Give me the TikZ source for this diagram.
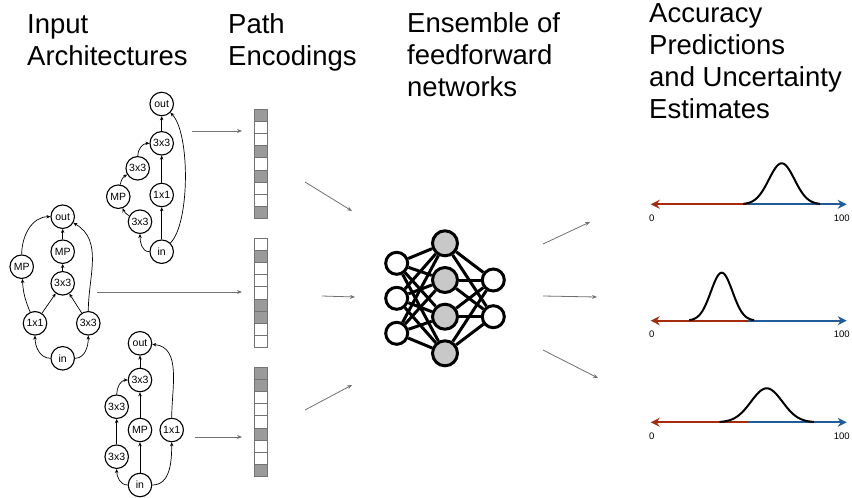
\documentclass[tikz,border=0pt]{standalone}
\usepackage{fontspec}
\setmainfont{Liberation Sans}
\usetikzlibrary{arrows.meta}
\definecolor{axred}{HTML}{A62B0C}
\definecolor{axblue}{HTML}{1F5C99}
\definecolor{cellgray}{HTML}{9A9A9A}
\definecolor{hidgray}{HTML}{C8C8C8}
\definecolor{arrgray}{HTML}{707070}
\begin{document}
\begin{tikzpicture}[x=1pt,y=1pt,
  head/.style={anchor=base west, align=left, inner sep=0pt, font=\fontsize{27.5}{32}\selectfont},
  op/.style={circle, draw=black, line width=1.1pt, minimum size=23.5pt, inner sep=0pt, font=\fontsize{10.5}{12}\selectfont, fill=white},
  edge/.style={-{Stealth[length=4pt,width=3.5pt]}, line width=0.7pt},
  flow/.style={draw=arrgray, line width=0.8pt, -{Stealth[length=5pt,width=4pt]}},
  cellbox/.style={draw=black!55, line width=1pt, minimum width=13pt, minimum height=12.22pt, inner sep=0pt},
  inn/.style={circle, draw=black, line width=3pt, fill=white, minimum size=22pt, inner sep=0pt},
  hid/.style={inn, fill=hidgray, minimum size=25pt},
  wire/.style={line width=3pt},
  axisr/.style={draw=axred, line width=2pt, -{Stealth[length=9pt,width=9pt]}},
  axisb/.style={draw=axblue, line width=2pt, -{Stealth[length=9pt,width=9pt]}},
  bell/.style={line width=2pt},
  tick/.style={font=\fontsize{9.5}{11}\selectfont, inner sep=0pt},
  ]
\useasboundingbox (0,0) rectangle (852,-498);

% headings (anchor = baseline of the last line)
\node[head] (h1) at (27,-65) {Input\\Architectures};
\node[head] (h2) at (228,-65) {Path\\Encodings};
\node[head] (h3) at (407,-96) {Ensemble of\\feedforward\\networks};
\node[head] (h4) at (649,-118) {Accuracy\\Predictions\\and Uncertainty\\Estimates};

% top architecture
\node[op] (Aout) at (161.7,-104) {out};
\node[op] (A33t) at (161.7,-143.3) {3x3};
\node[op] (A33l) at (137.7,-168.3) {3x3};
\node[op] (AMP) at (118.3,-196.7) {MP};
\node[op] (A11) at (161.7,-195) {1x1};
\node[op] (A33b) at (140,-221.7) {3x3};
\node[op] (Ain) at (161.7,-251.7) {in};
\draw[edge] (Ain) to[out=180,in=-90] (A33b);
\draw[edge] (A33b) to[bend left=20] (AMP);
\draw[edge] (AMP) to[bend left=25] (A33l);
\draw[edge] (A33l) to[out=90,in=180] (A33t);
\draw[edge] (Ain) -- (A11);
\draw[edge] (A11) -- (A33t);
\draw[edge] (A33t) -- (Aout);
\draw[edge] (Ain) to[out=45,in=-45,looseness=0.55] (Aout);

% middle architecture
\node[op] (Bout) at (62.7,-216.7) {out};
\node[op] (BMPc) at (62.7,-251.7) {MP};
\node[op] (BMPl) at (21.7,-266.7) {MP};
\node[op] (B33) at (62.7,-283.3) {3x3};
\node[op] (B11) at (35,-323.3) {1x1};
\node[op] (B33r) at (88.3,-323.3) {3x3};
\node[op] (Bin) at (62.7,-358.3) {in};
\draw[edge] (Bin) to[out=180,in=-90] (B11);
\draw[edge] (Bin) to[out=0,in=-90] (B33r);
\draw[edge] (B11) to[bend left=10] (BMPl);
\draw[edge] (BMPl) to[out=90,in=180] (Bout);
\draw[edge] (B11) -- (B33);
\draw[edge] (B33r) -- (B33);
\draw[edge] (B33) -- (BMPc);
\draw[edge] (BMPc) -- (Bout);
\draw[edge] (B33r) to[out=90,in=-30] (Bout);

% bottom architecture
\node[op] (Cout) at (140,-343.3) {out};
\node[op] (C33t) at (140,-380) {3x3};
\node[op] (C33l) at (116.7,-406.7) {3x3};
\node[op] (CMP) at (140,-430) {MP};
\node[op] (C11) at (171.7,-430) {1x1};
\node[op] (C33b) at (116.7,-456.7) {3x3};
\node[op] (Cin) at (140,-485) {in};
\draw[edge] (Cin) to[out=180,in=-90] (C33b);
\draw[edge] (C33b) -- (C33l);
\draw[edge] (C33l) to[out=90,in=180] (C33t);
\draw[edge] (Cin) -- (CMP);
\draw[edge] (CMP) -- (C33t);
\draw[edge] (C33t) -- (Cout);
\draw[edge] (Cin) to[out=0,in=-90] (C11);
\draw[edge] (C11) to[out=90,in=-5] (Cout);

% path encodings
\foreach \f [count=\i] in {cellgray,white,white,cellgray,white,cellgray,white,white,cellgray}
  \node[cellbox, fill=\f] (P1c\i) at (260.5,{-109-(\i-0.5)*12.22}) {};
\foreach \f [count=\i] in {white,cellgray,white,white,white,cellgray,cellgray,white,white}
  \node[cellbox, fill=\f] (P2c\i) at (260.5,{-238-(\i-0.5)*12.22}) {};
\foreach \f [count=\i] in {cellgray,cellgray,white,white,white,cellgray,white,white,cellgray}
  \node[cellbox, fill=\f] (P3c\i) at (260.5,{-367-(\i-0.5)*12.22}) {};

% arrows architecture -> encoding
\coordinate (fa1) at (192,-131); \coordinate (fa2) at (242,-131);
\coordinate (fb1) at (97,-292); \coordinate (fb2) at (242,-292);
\coordinate (fc1) at (195,-437); \coordinate (fc2) at (242,-437);
\draw[flow] (fa1) -- (fa2);
\draw[flow] (fb1) -- (fb2);
\draw[flow] (fc1) -- (fc2);

% network
\foreach \y [count=\i] in {263.3,298.3,333.3} \node[inn] (I\i) at (396.7,-\y) {};
\foreach \y [count=\i] in {243.3,280,316.7,353.3} \node[hid] (H\i) at (445,-\y) {};
\foreach \y [count=\i] in {280,316.7} \node[inn] (O\i) at (493.3,-\y) {};
\foreach \i in {1,2,3} \foreach \j in {1,2,3,4} \draw[wire] (I\i) -- (H\j);
\foreach \j in {1,2,3,4} \foreach \k in {1,2} \draw[wire] (H\j) -- (O\k);

% arrows encodings -> network
\coordinate (ga1) at (305,-182); \coordinate (ga2) at (352,-211);
\coordinate (gb1) at (322,-296); \coordinate (gb2) at (355,-297);
\coordinate (gc1) at (305,-410); \coordinate (gc2) at (352,-385);
\draw[flow] (ga1) -- (ga2);
\draw[flow] (gb1) -- (gb2);
\draw[flow] (gc1) -- (gc2);

% arrows network -> predictions
\coordinate (ka1) at (543,-244); \coordinate (ka2) at (590,-222);
\coordinate (kb1) at (543,-296); \coordinate (kb2) at (597,-297);
\coordinate (kc1) at (543,-350); \coordinate (kc2) at (598,-378);
\draw[flow] (ka1) -- (ka2);
\draw[flow] (kb1) -- (kb2);
\draw[flow] (kc1) -- (kc2);

% predictions
\foreach \n/\ay/\mu/\sg/\h in {1/204.3/781.7/12.8/41, 2/320.7/721.7/10.8/48, 3/422.3/766.7/15.7/34} {
  \coordinate (zl\n) at (650.7,-\ay);
  \coordinate (zm\n) at (748.3,-\ay);
  \coordinate (zr\n) at (846.7,-\ay);
  \draw[axisr] (zm\n) -- (zl\n);
  \draw[axisb] (zm\n) -- (zr\n);
  \draw[bell] plot[domain=-3:3,samples=61,smooth] ({\mu+\sg*\x},{-\ay+\h*exp(-0.5*(\x)*(\x))});
  \node[tick] (t0\n) at (651.7,-\ay-14) {0};
  \node[tick] (t100\n) at (841.7,-\ay-14) {100};
}
\end{tikzpicture}
\end{document}
